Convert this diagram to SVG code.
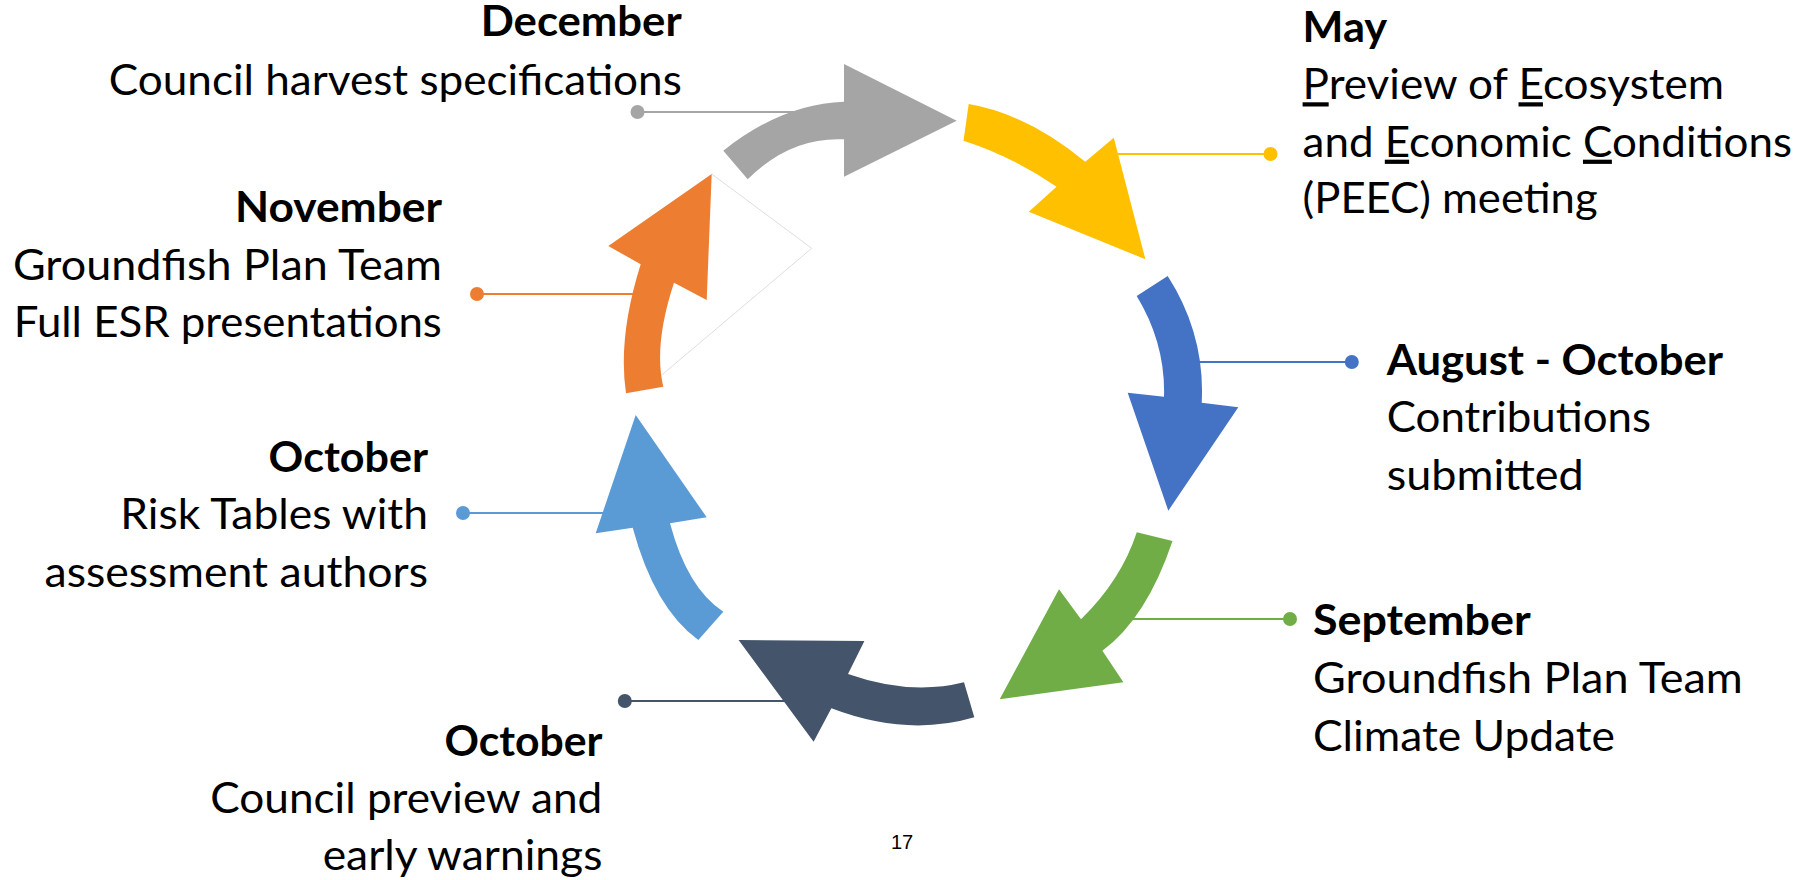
<svg xmlns="http://www.w3.org/2000/svg" width="1814" height="880" viewBox="0 0 1814 880">
<style>
  .t { font-family: Lato, "Liberation Sans", sans-serif; font-size: 42px; fill: #000; }
  .b { font-weight: bold; }
  .u { text-decoration: underline; }
  .ln { stroke-width: 2; fill: none; }
  .pg { font-family: "Liberation Sans", Arial, sans-serif; font-size: 20px; fill: #000; }
</style>
<rect width="1814" height="880" fill="#FFFFFF"/>
<g id="connectors">
  <line class="ln" x1="637.5" y1="112" x2="800" y2="112" stroke="#A5A5A5"/>
  <circle cx="637.5" cy="112" r="7" fill="#A5A5A5"/>
  <line class="ln" x1="1105" y1="154" x2="1270.5" y2="154" stroke="#FFC000"/>
  <circle cx="1270.5" cy="154" r="7" fill="#FFC000"/>
  <line class="ln" x1="1190" y1="362" x2="1351.8" y2="362" stroke="#4472C4"/>
  <circle cx="1351.8" cy="362" r="7" fill="#4472C4"/>
  <line class="ln" x1="1125" y1="619" x2="1290" y2="619" stroke="#70AD47"/>
  <circle cx="1290" cy="619" r="7" fill="#70AD47"/>
  <line class="ln" x1="624.8" y1="701" x2="790" y2="701" stroke="#44546A"/>
  <circle cx="624.8" cy="701" r="7" fill="#44546A"/>
  <line class="ln" x1="463" y1="513" x2="610" y2="513" stroke="#5B9BD5"/>
  <circle cx="463" cy="513" r="7" fill="#5B9BD5"/>
  <line class="ln" x1="477" y1="294" x2="640" y2="294" stroke="#ED7D31"/>
  <circle cx="477" cy="294" r="7" fill="#ED7D31"/>
</g>
<g id="arrow-december">
  <path d="M 723.3,150.7 Q 782.35,103.8 844,101.7 L 844,64 L 956.7,120.7 L 844,176.7 L 844,139.3 Q 790.15,136.7 747.7,179.3 Z" fill="#A5A5A5"/>
</g>
<g id="arrow-may">
  <path d="M 968.7,104 Q 1026.6,113.75 1085.3,161.7 L 1113.8,137.7 L 1145.4,259.3 L 1028.8,211.7 L 1056.5,186.7 Q 1012,156.3 963.5,140.7 Z" fill="#FFC000"/>
</g>
<g id="arrow-august">
  <path d="M 1167.7,276 Q 1205.3,334.65 1201.7,402.7 L 1238.3,407.3 L 1168.3,510.7 L 1127.7,392.7 L 1164,396.7 Q 1165.65,343.65 1136.7,296 Z" fill="#4472C4"/>
</g>
<g id="arrow-september">
  <path d="M 1172.5,541 Q 1146.55,618.15 1102.4,650.7 L 1123.4,682.3 L 999.7,699.3 L 1059,589.3 L 1081,619.3 Q 1121.1,580.2 1136.8,532.3 Z" fill="#70AD47"/>
</g>
<g id="arrow-october-council">
  <path d="M 964,682.3 Q 910,695.85 848,674 L 864.4,641 L 738.6,640 L 813.6,741.7 L 831.4,708.3 Q 907.15,737.2 974.3,717.3 Z" fill="#44546A"/>
</g>
<g id="arrow-october-risk">
  <path d="M 635.7,415 L 706.7,517.3 L 670,523.3 Q 687.35,588.5 723.3,611.7 L 698.3,640 Q 654.5,608.15 632.7,527.7 L 595.7,533.3 Z" fill="#5B9BD5"/>
</g>
<g id="arrow-november">
  <polyline points="711.7,174 811.7,248.3 661.7,375" fill="none" stroke="#D6D6D6" stroke-width="0.8"/>
  <path d="M 626,393.3 Q 617.65,337.2 640.7,264.3 L 608.3,246 L 711.7,174 L 706.7,300 L 674,282.7 Q 653.35,345.3 663.3,386.7 Z" fill="#ED7D31"/>
</g>
<g id="label-december">
  <text class="t b" x="480.7" y="36" textLength="201" lengthAdjust="spacingAndGlyphs">December</text>
  <text class="t" x="108.8" y="95" textLength="573" lengthAdjust="spacingAndGlyphs">Council harvest specifications</text>
</g>
<g id="label-november">
  <text class="t b" x="235" y="221.7" textLength="207" lengthAdjust="spacingAndGlyphs">November</text>
  <text class="t" x="12.9" y="280" textLength="429" lengthAdjust="spacingAndGlyphs">Groundfish Plan Team</text>
  <text class="t" x="13.8" y="336.7" textLength="428" lengthAdjust="spacingAndGlyphs">Full ESR presentations</text>
</g>
<g id="label-october-risk">
  <text class="t b" x="268.6" y="471.7" textLength="159.4" lengthAdjust="spacingAndGlyphs">October</text>
  <text class="t" x="120.3" y="529.3" textLength="307.7" lengthAdjust="spacingAndGlyphs">Risk Tables with</text>
  <text class="t" x="44.5" y="586.7" textLength="383.5" lengthAdjust="spacingAndGlyphs">assessment authors</text>
</g>
<g id="label-october-council">
  <text class="t b" x="444.4" y="756" textLength="158" lengthAdjust="spacingAndGlyphs">October</text>
  <text class="t" x="210.3" y="813.3" textLength="392" lengthAdjust="spacingAndGlyphs">Council preview and</text>
  <text class="t" x="322.7" y="870" textLength="279.7" lengthAdjust="spacingAndGlyphs">early warnings</text>
</g>
<g id="label-may">
  <text class="t b" x="1302.6" y="41.7" textLength="84.6" lengthAdjust="spacingAndGlyphs">May</text>
  <text class="t" x="1302.6" y="99.3" textLength="421.4" lengthAdjust="spacingAndGlyphs"><tspan class="u">P</tspan>review of <tspan class="u">E</tspan>cosystem</text>
  <text class="t" x="1302.6" y="156.7" textLength="489.4" lengthAdjust="spacingAndGlyphs">and <tspan class="u">E</tspan>conomic <tspan class="u">C</tspan>onditions</text>
  <text class="t" x="1302.6" y="213.3" textLength="295" lengthAdjust="spacingAndGlyphs">(PEEC) meeting</text>
</g>
<g id="label-august">
  <text class="t b" x="1386.7" y="375" textLength="336.3" lengthAdjust="spacingAndGlyphs">August - October</text>
  <text class="t" x="1386.7" y="431.7" textLength="264.3" lengthAdjust="spacingAndGlyphs">Contributions</text>
  <text class="t" x="1386.7" y="490" textLength="197" lengthAdjust="spacingAndGlyphs">submitted</text>
</g>
<g id="label-september">
  <text class="t b" x="1313" y="635" textLength="217.6" lengthAdjust="spacingAndGlyphs">September</text>
  <text class="t" x="1313" y="693.3" textLength="429.8" lengthAdjust="spacingAndGlyphs">Groundfish Plan Team</text>
  <text class="t" x="1313" y="750.7" textLength="302" lengthAdjust="spacingAndGlyphs">Climate Update</text>
</g>
<g id="page-number">
  <text class="pg" x="902" y="849" text-anchor="middle">17</text>
</g>
</svg>
